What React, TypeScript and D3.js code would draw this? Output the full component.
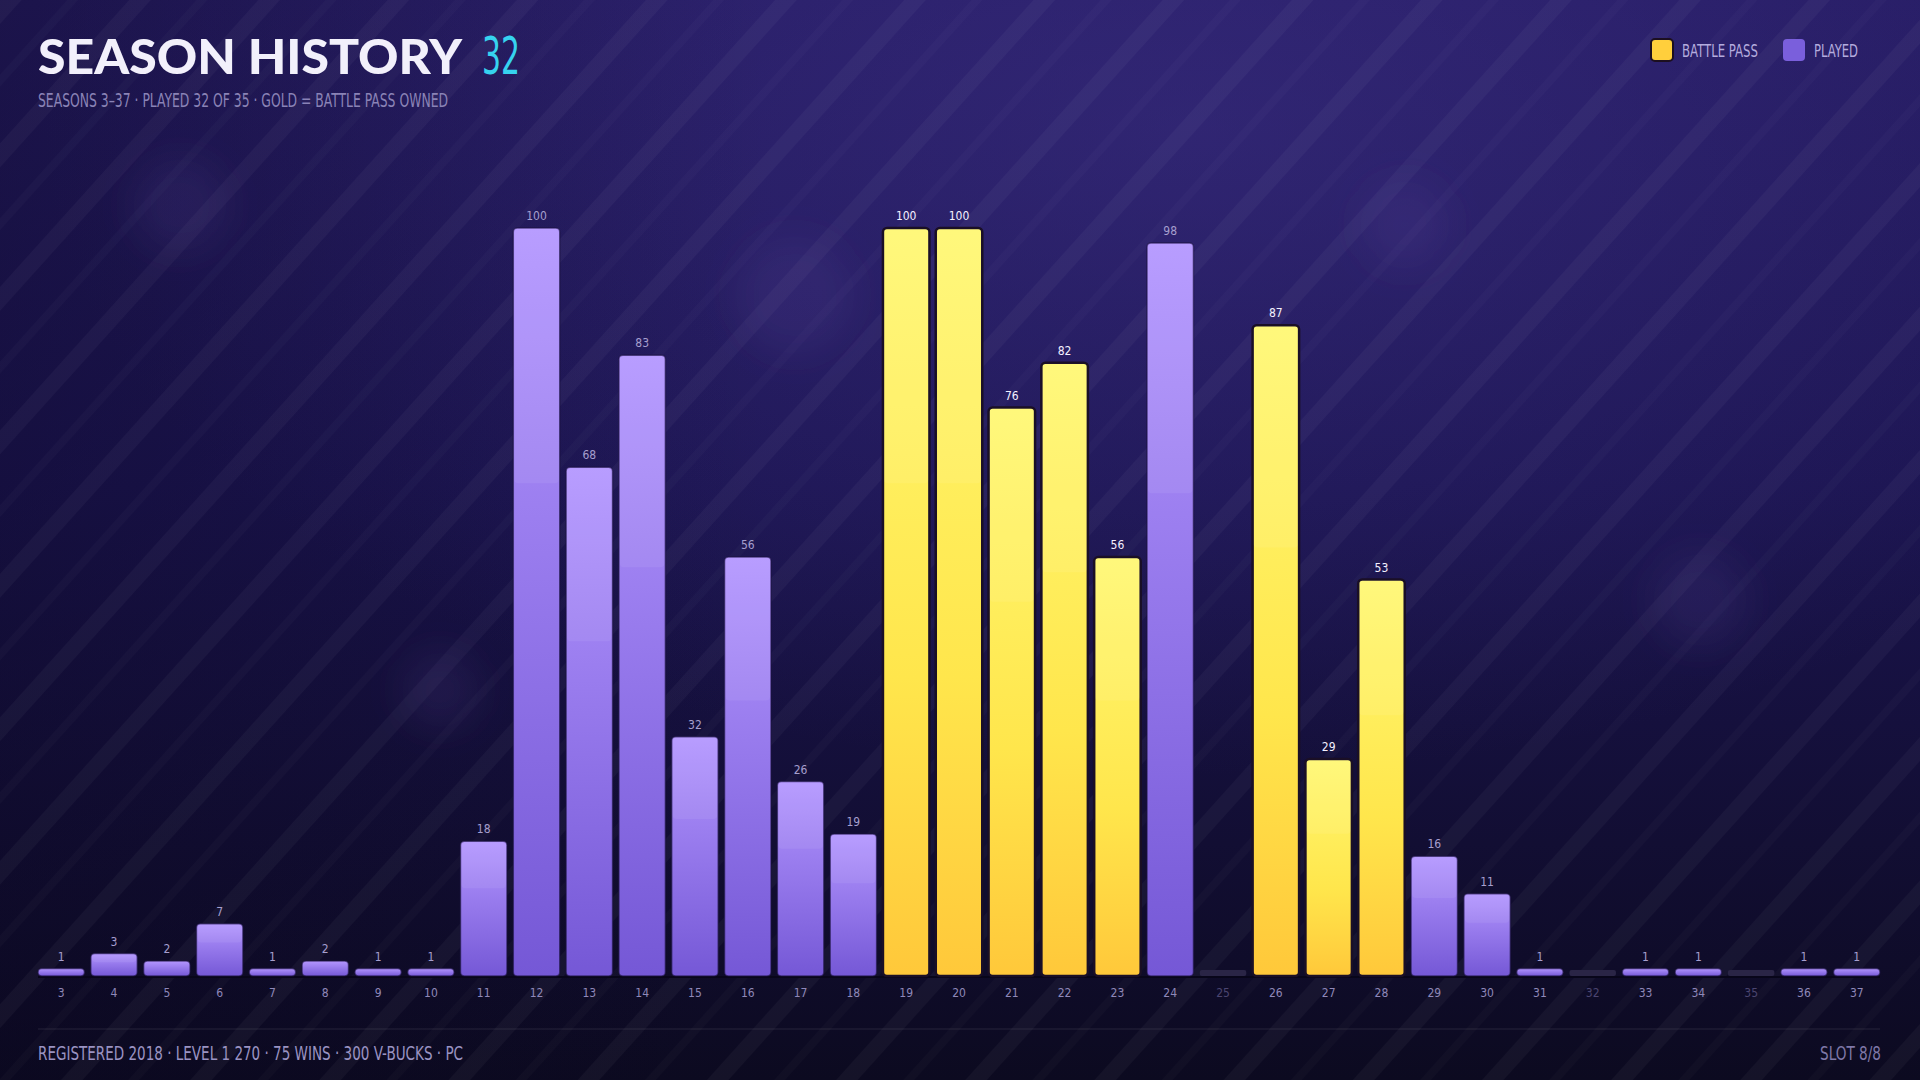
import React, { useEffect } from "react";
import * as d3 from "d3";

const SEASONS = [
  "3", "4", "5", "6", "7", "8", "9", "10", "11", "12", "13", "14", "15", "16", "17", "18", "19", "20",
  "21", "22", "23", "24", "25", "26", "27", "28", "29", "30", "31", "32", "33", "34", "35", "36", "37",
];
// tier reached per season, null = not played
const LEVELS: (number | null)[] = [
  1, 3, 2, 7, 1, 2, 1, 1, 18, 100, 68, 83, 32, 56, 26, 19, 100, 100, 76, 82, 56, 98, null, 87, 29, 53, 16,
  11, 1, null, 1, 1, null, 1, 1,
];
const BATTLE_PASS = ["19", "20", "21", "22", "23", "26", "27", "28"];
const LEGEND = [
  { key: "bp", label: "BATTLE PASS", x: 1651, len: 76 },
  { key: "played", label: "PLAYED", x: 1783, len: 44 },
];
const FOOTER_LEFT = "REGISTERED 2018  ·  LEVEL 1 270  ·  75 WINS  ·  300 V-BUCKS  ·  PC";
const FOOTER_RIGHT = "SLOT 8/8";
const SUBTITLE = "SEASONS 3–37  ·  PLAYED 32 OF 35  ·  GOLD = BATTLE PASS OWNED";

const W = 1920;
const H = 1080;
const M = { top: 228, right: 40, bottom: 104, left: 38 };
const NARROW = "'Liberation Sans Narrow', 'DejaVu Sans Condensed', 'Roboto', sans-serif";

export default function App() {
  useEffect(() => {
    document.body.style.margin = "0";
    document.body.style.background = "#0d0a22";
  }, []);

  const data = SEASONS.map((s, i) => ({ season: s, level: LEVELS[i], bp: BATTLE_PASS.includes(s) }));

  const x = d3
    .scaleBand<string>()
    .domain(SEASONS)
    .range([M.left, W - M.right])
    .paddingInner(0.12)
    .paddingOuter(0);
  const baseY = H - M.bottom;
  const y = d3.scaleLinear().domain([0, 100]).range([baseY, M.top]);

  const bw = x.bandwidth();

  return (
    <div style={{ position: "absolute", left: 0, top: 0, width: W, height: H }}>
      <svg width={W} height={H} style={{ display: "block" }}>
        <defs>
          <linearGradient id="bg" x1="0" x2="0" y1="0" y2="1">
            <stop offset="0%" stopColor="#251b62" />
            <stop offset="45%" stopColor="#1b1450" />
            <stop offset="100%" stopColor="#0c0a20" />
          </linearGradient>
          <radialGradient id="glow" cx="0.62" cy="0.12" r="0.6">
            <stop offset="0%" stopColor="#4a3c9a" stopOpacity="0.35" />
            <stop offset="100%" stopColor="#4a3c9a" stopOpacity="0" />
          </radialGradient>
          <linearGradient id="leftShade" x1="0" x2="1" y1="0" y2="0">
            <stop offset="0%" stopColor="#0a0620" stopOpacity="0.35" />
            <stop offset="40%" stopColor="#0a0620" stopOpacity="0" />
          </linearGradient>
          <pattern id="stripes" width="96" height="96" patternUnits="userSpaceOnUse" patternTransform="rotate(42)">
            <rect x="0" y="0" width="16" height="96" fill="#ffffff" fillOpacity="0.035" />
            <rect x="50" y="0" width="8" height="96" fill="#ffffff" fillOpacity="0.02" />
          </pattern>
          <filter id="blur" x="-50%" y="-50%" width="200%" height="200%">
            <feGaussianBlur stdDeviation="18" />
          </filter>
          <linearGradient id="gold" x1="0" x2="0" y1="0" y2="1">
            <stop offset="0%" stopColor="#fff872" />
            <stop offset="60%" stopColor="#ffe64c" />
            <stop offset="100%" stopColor="#ffc83a" />
          </linearGradient>
          <linearGradient id="purple" x1="0" x2="0" y1="0" y2="1">
            <stop offset="0%" stopColor="#b396ff" />
            <stop offset="100%" stopColor="#7558d6" />
          </linearGradient>
          <linearGradient id="rule" x1="0" x2="1" y1="0" y2="0">
            <stop offset="0%" stopColor="#ffffff" stopOpacity="0.04" />
            <stop offset="100%" stopColor="#ffffff" stopOpacity="0.14" />
          </linearGradient>
        </defs>

        {/* background */}
        <rect width={W} height={H} fill="url(#bg)" />
        <rect width={W} height={H} fill="url(#glow)" />
        <rect width={W} height={H} fill="url(#leftShade)" />
        <rect width={W} height={H} fill="url(#stripes)" />
        <g filter="url(#blur)" fill="#6a5ab8" fillOpacity="0.12">
          <circle cx={180} cy={205} r={48} />
          <circle cx={795} cy={295} r={60} />
          <circle cx={1405} cy={225} r={46} />
          <circle cx={1700} cy={600} r={48} />
          <circle cx={440} cy={690} r={40} />
        </g>

        {/* title */}
        <text
          x={38}
          y={74}
          fill="#f2f0fb"
          textLength={424}
          lengthAdjust="spacingAndGlyphs"
          style={{ font: "900 47px Lato, 'Open Sans', sans-serif" }}
        >
          SEASON HISTORY
        </text>
        <text
          x={482}
          y={74}
          fill="#36d3ef"
          textLength={38}
          lengthAdjust="spacingAndGlyphs"
          style={{ font: `400 52px ${NARROW}` }}
        >
          32
        </text>
        <text
          x={38}
          y={107}
          fill="#8a83b6"
          textLength={410}
          lengthAdjust="spacingAndGlyphs"
          style={{ font: `400 19px ${NARROW}` }}
        >
          {SUBTITLE}
        </text>
        <line x1={455} x2={1880} y1={108.5} y2={108.5} stroke="url(#rule)" strokeWidth={1.5} />

        {/* legend */}
        {LEGEND.map((d) => (
          <g key={d.key} transform={`translate(${d.x},39)`}>
            <rect
              width={22}
              height={22}
              rx={4}
              fill={d.key === "bp" ? "#ffcf3c" : "#7a5fdc"}
              stroke={d.key === "bp" ? "#1c0f20" : "none"}
              strokeWidth={2}
            />
            <text
              x={31}
              y={18}
              fill="#b4acde"
              textLength={d.len}
              lengthAdjust="spacingAndGlyphs"
              style={{ font: `400 18px ${NARROW}` }}
            >
              {d.label}
            </text>
          </g>
        ))}

        {/* bars */}
        <line x1={M.left} x2={W - M.right} y1={baseY + 1} y2={baseY + 1} stroke="#08061a" strokeWidth={2} />
        {data.map((d) => {
          const x0 = x(d.season) as number;
          if (d.level === null) {
            return <rect key={d.season} x={x0} y={baseY - 6} width={bw} height={6} rx={2} fill="#2a2546" />;
          }
          const top = y(d.level);
          const h = baseY - top;
          const r = Math.min(4, h / 2);
          return (
            <g key={d.season}>
              <rect
                x={x0}
                y={top}
                width={bw}
                height={h}
                rx={r}
                fill={d.bp ? "url(#gold)" : "url(#purple)"}
                stroke={d.bp ? "#1a0f26" : "#1a1240"}
                strokeOpacity={d.bp ? 1 : 0.6}
                strokeWidth={d.bp ? 2.5 : 1.5}
              />
              {h > 20 ? (
                <rect x={x0 + 1} y={top + 1} width={bw - 2} height={h * 0.34} rx={r} fill="#ffffff" fillOpacity={0.07} />
              ) : null}
              <text
                x={x0 + bw / 2}
                y={top - 8}
                textAnchor="middle"
                fill={d.bp ? "#f4f1ff" : "#a69fce"}
                style={{ font: `400 12px ${NARROW}` }}
              >
                {d.level}
              </text>
            </g>
          );
        })}

        {/* x axis labels */}
        {data.map((d) => (
          <text
            key={`t${d.season}`}
            x={(x(d.season) as number) + bw / 2}
            y={997}
            textAnchor="middle"
            fill={d.level === null ? "#4b4570" : "#8f88b9"}
            style={{ font: `400 12px ${NARROW}` }}
          >
            {d.season}
          </text>
        ))}

        {/* footer */}
        <line x1={38} x2={1880} y1={1029} y2={1029} stroke="#ffffff" strokeOpacity={0.07} strokeWidth={1.5} />
        <text
          x={38}
          y={1060}
          fill="#9a93c2"
          textLength={425}
          lengthAdjust="spacingAndGlyphs"
          style={{ font: `400 19px ${NARROW}` }}
        >
          {FOOTER_LEFT}
        </text>
        <text
          x={1881}
          y={1060}
          textAnchor="end"
          fill="#7f78a8"
          textLength={61}
          lengthAdjust="spacingAndGlyphs"
          style={{ font: `400 19px ${NARROW}` }}
        >
          {FOOTER_RIGHT}
        </text>
      </svg>
    </div>
  );
}
